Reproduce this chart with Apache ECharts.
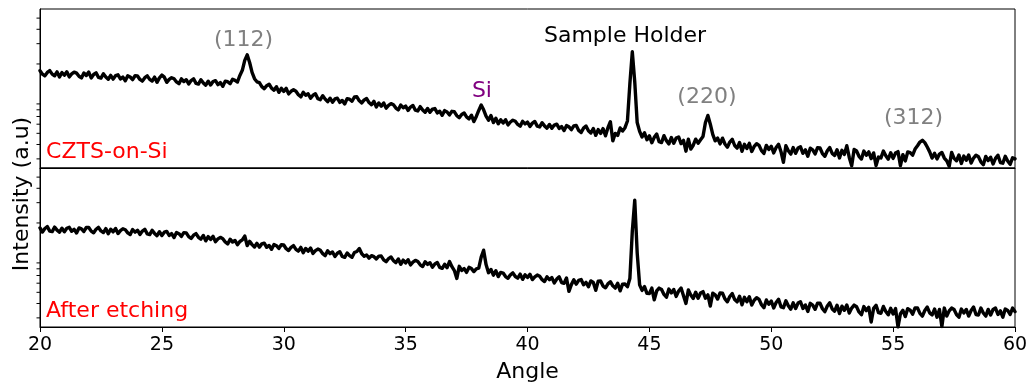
<!DOCTYPE html>
<html>
<head>
<meta charset="utf-8">
<script src="https://cdn.jsdelivr.net/npm/echarts@6.0.0/dist/echarts.min.js"></script>
<style>
html,body{margin:0;padding:0;background:#fff;}
#chart{width:1032px;height:385px;}
</style>
</head>
<body>
<div id="chart"></div>
<script>
// ---- data ----
const angleStart = 20, angleStep = 0.1;
const xTicks = [20, 25, 30, 35, 40, 45, 50, 55, 60];
const minorTickValues = [300, 400, 500, 600, 700, 800, 900, 2000, 3000, 4000, 5000];

// CZTS-on-Si (top panel), intensity (a.u.) sampled every 0.1 deg from 20 to 60
const czts = [
1749,1630,1576,1689,1751,1633,1580,1708,1541,1684,
1599,1710,1545,1639,1700,1664,1565,1513,1670,1587,
1700,1514,1620,1677,1529,1507,1642,1542,1474,1592,
1478,1582,1609,1482,1539,1429,1577,1542,1463,1579,
1575,1467,1419,1520,1576,1469,1422,1537,1386,1515,
1600,1536,1385,1468,1520,1486,1395,1347,1484,1408,
1460,1341,1436,1487,1356,1338,1458,1370,1310,1415,
1315,1409,1434,1324,1377,1280,1420,1403,1348,1475,
1440,1395,1590,1760,2150,2400,2060,1690,1490,1400,
1376,1271,1220,1296,1333,1233,1183,1268,1134,1229,
1156,1227,1100,1158,1193,1159,1081,1037,1136,1070,
1102,1007,1071,1102,999,979,1061,990,941,1009,
931,994,1008,928,965,900,1000,989,949,1034,
1038,958,919,975,1002,925,886,948,847,917,
860,918,827,875,905,884,828,799,880,834,
862,791,845,873,794,782,852,798,762,821,
761,811,820,752,777,717,787,766,723,776,
769,711,684,728,750,695,668,718,632,700,
790,880,800,705,650,715,620,675,605,655,
614,656,592,627,650,636,597,576,635,603,
625,574,613,634,577,568,618,580,554,597,
553,590,600,551,572,529,583,569,538,580,
586,530,508,555,579,527,503,551,480,539,
499,549,476,560,630,430,499,480,557,523,
560,640,1350,2550,1400,620,520,465,505,440,
475,414,461,492,423,416,477,432,405,460,
410,455,465,407,434,350,445,365,394,445,
410,440,470,620,715,600,490,430,455,405,
454,404,379,420,444,392,372,416,349,402,
369,409,348,385,406,393,354,335,393,362,
386,338,377,402,346,280,391,353,330,376,
335,373,382,335,359,316,371,359,331,375,
373,334,316,353,376,335,321,360,306,356,
328,390,309,262,362,351,316,299,351,323,
345,302,338,262,311,306,351,319,298,339,
303,337,347,262,326,288,345,340,323,365,
390,420,435,415,380,345,305,335,300,330,
341,305,288,258,341,303,289,324,274,317,
292,324,276,305,323,313,283,267,315,290,
310,271,303,323,279,275,316,287,269,307,
300
];

// After etching (bottom panel)
const etched = [
1811,1669,1791,1860,1701,1683,1840,1733,1663,1801,
1678,1799,1833,1693,1761,1638,1812,1776,1688,1826,
1825,1700,1645,1764,1830,1706,1652,1787,1612,1763,
1675,1791,1618,1717,1782,1745,1640,1588,1753,1666,
1730,1590,1701,1763,1607,1585,1727,1624,1552,1677,
1557,1664,1691,1557,1615,1497,1650,1613,1529,1649,
1642,1524,1468,1567,1618,1502,1447,1557,1399,1522,
1439,1531,1376,1453,1500,1462,1367,1315,1446,1366,
1411,1293,1380,1425,1540,1274,1385,1297,1236,1332,
1234,1317,1337,1230,1275,1181,1300,1270,1202,1295,
1287,1195,1152,1230,1272,1181,1140,1227,1103,1202,
1137,1211,1088,1149,1187,1157,1083,1042,1145,1082,
1119,1024,1091,1126,1023,1006,1097,1040,1007,1107,
1130,1200,1080,1030,1055,990,1040,1020,975,1030,
1032,956,921,982,1014,941,906,974,875,952,
900,960,865,915,947,925,867,837,921,873,
904,827,880,907,823,807,876,818,925,835,
772,660,841,774,804,745,823,804,757,800,
810,1010,1160,870,740,790,705,770,685,745,
735,685,662,710,737,686,664,719,648,709,
673,717,645,682,706,688,644,620,682,643,
671,603,652,681,608,599,665,510,583,642,
589,635,646,582,610,559,628,608,520,625,
628,567,547,592,618,569,544,599,515,588,
590,560,660,1700,3150,1100,580,520,560,490,
489,544,430,514,544,529,479,454,534,494,
529,461,513,545,467,400,525,473,442,501,
444,494,507,444,475,380,491,475,437,494,
491,438,414,460,488,433,413,462,390,452,
414,458,388,427,449,434,390,367,429,394,
419,366,408,435,374,368,422,382,357,405,
362,403,414,362,388,341,401,387,356,403,
402,360,340,380,405,359,343,386,327,379,
349,388,330,365,387,375,338,320,376,347,
371,276,363,386,333,329,377,341,319,363,
324,361,250,326,349,308,361,350,323,366,
365,328,311,348,372,331,318,358,304,355,
252,365,311,345,365,355,321,304,358,331,
355,311,348,372,321,318,365,331,311,355,
318,355,365,321,345,304,358,348,321,365,
340
];

// annotations: [panel, angle, intensity, text, color, align]
const annotations = [
  [0, 28.35, 3223, '(112)', '#808080', 'center'],
  [0, 44.0, 3491, 'Sample Holder', '#000000', 'center'],
  [0, 38.13, 1161, 'Si', '#800080', 'center'],
  [0, 47.36, 1030, '(220)', '#808080', 'center'],
  [0, 55.84, 676, '(312)', '#808080', 'center'],
  [0, 20.25, 342, 'CZTS-on-Si', '#ff0000', 'left'],
  [1, 20.25, 342, 'After etching', '#ff0000', 'left']
];

// ---- chart ----
const FONT = '"DejaVu Sans", sans-serif';
const pairs = arr => arr.map((v, i) => [+(angleStart + i * angleStep).toFixed(2), v]);
const yMin = 250, yMax = 6000;

const tickRender = (params, api) => {
  const p = api.coord([api.value(0), api.value(1)]);
  return {type: 'line', shape: {x1: p[0] - 3.5, y1: p[1], x2: p[0], y2: p[1]},
          style: {stroke: '#000', lineWidth: 1}};
};

const grids = [
  {left: 40, right: 17, top: 9, height: 159, show: true, borderColor: '#000', borderWidth: 1, backgroundColor: 'transparent'},
  {left: 40, right: 17, top: 168, height: 159, show: true, borderColor: '#000', borderWidth: 1, backgroundColor: 'transparent'}
];

const xAxes = [
  {gridIndex: 0, type: 'value', min: 20, max: 60, interval: 5,
   axisLabel: {show: false}, axisTick: {show: false}, splitLine: {show: false},
   axisLine: {show: true, onZero: false, lineStyle: {color: '#000', width: 1}}},
  {gridIndex: 1, type: 'value', min: 20, max: 60, interval: 5,
   name: 'Angle', nameLocation: 'middle', nameGap: 34,
   nameTextStyle: {fontFamily: FONT, fontSize: 22, color: '#000'},
   axisLabel: {show: true, fontFamily: FONT, fontSize: 19, color: '#000', margin: 9},
   axisTick: {show: true, inside: false, length: 5, lineStyle: {color: '#000'}},
   splitLine: {show: false},
   axisLine: {show: true, onZero: false, lineStyle: {color: '#000', width: 1}}}
];

const yAxisBase = i => ({gridIndex: i, type: 'log', logBase: 10, min: yMin, max: yMax,
  axisLabel: {show: false}, axisTick: {show: false}, splitLine: {show: false}, minorTick: {show: false},
  axisLine: {show: true, lineStyle: {color: '#000', width: 1}}});

const lineStyle = {color: '#000', width: 3.4, join: 'round', cap: 'round'};

const chart = echarts.init(document.getElementById('chart'), null, {renderer: 'canvas'});
chart.setOption({
  animation: false,
  backgroundColor: '#fff',
  grid: grids,
  xAxis: xAxes,
  yAxis: [yAxisBase(0), yAxisBase(1)],
  series: [
    {type: 'line', xAxisIndex: 0, yAxisIndex: 0, data: pairs(czts), showSymbol: false,
     lineStyle: lineStyle, silent: true},
    {type: 'line', xAxisIndex: 1, yAxisIndex: 1, data: pairs(etched), showSymbol: false,
     lineStyle: lineStyle, silent: true},
    {type: 'custom', xAxisIndex: 0, yAxisIndex: 0, clip: false, silent: true,
     data: minorTickValues.map(v => [20, v]), renderItem: tickRender},
    {type: 'custom', xAxisIndex: 1, yAxisIndex: 1, clip: false, silent: true,
     data: minorTickValues.map(v => [20, v]), renderItem: tickRender}
  ]
});

const graphics = annotations.map(a => {
  const p = chart.convertToPixel({gridIndex: a[0]}, [a[1], a[2]]);
  return {type: 'text', x: p[0], y: p[1], silent: true,
    style: {text: a[3], fill: a[4], font: '22px ' + FONT, align: a[5], verticalAlign: 'middle'}};
});
graphics.push({type: 'text', x: 22, y: 194, rotation: Math.PI / 2, silent: true,
  style: {text: 'Intensity (a.u)', fill: '#000', font: '22px ' + FONT, align: 'center', verticalAlign: 'middle'}});
chart.setOption({graphic: graphics});
</script>
</body>
</html>
